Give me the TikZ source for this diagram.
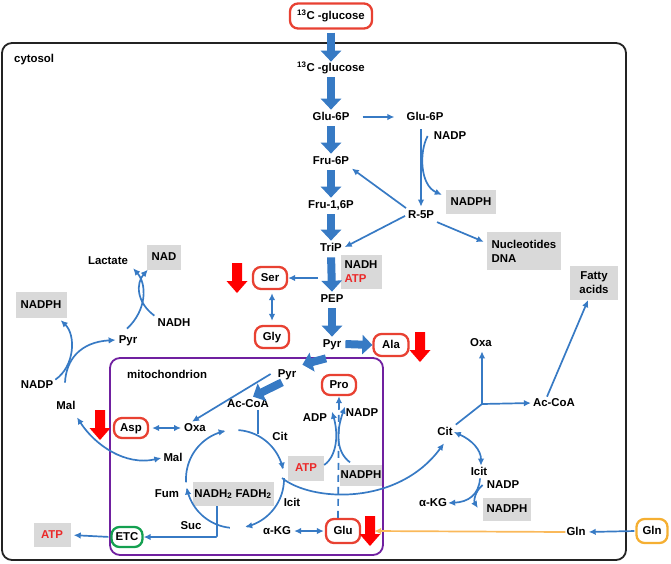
\documentclass[tikz,border=0pt]{standalone}
\usepackage{fontspec}
\setmainfont{Liberation Sans}
\usetikzlibrary{arrows.meta}
\definecolor{pblue}{RGB}{55,122,196}
\definecolor{bred}{RGB}{232,65,50}
\definecolor{tred}{RGB}{235,40,40}
\definecolor{agray}{RGB}{217,217,217}
\definecolor{mpurple}{RGB}{112,32,160}
\definecolor{egreen}{RGB}{20,160,80}
\definecolor{gorange}{RGB}{245,175,50}
\definecolor{lorange}{RGB}{250,185,90}
\definecolor{rarrow}{RGB}{255,0,0}
\definecolor{frame}{RGB}{35,35,35}
\tikzset{
  lbl/.style={font=\bfseries\fontsize{11.4}{13}\selectfont, inner sep=1pt, text height=8.3pt, text depth=2pt},
  mlbl/.style={font=\bfseries\fontsize{11.4}{14}\selectfont, inner sep=0pt},
  gbox/.style={lbl, fill=agray, inner sep=0pt},
  mgbox/.style={mlbl, fill=agray},
  rbox/.style={lbl, draw=bred, line width=2.3pt, rounded corners=8pt, inner sep=0pt, minimum width=34pt, minimum height=22pt},
  flow/.style={draw=pblue, line width=1.7pt, -{Latex[length=7pt,width=6.5pt]}},
  bothflow/.style={draw=pblue, line width=1.7pt, {Latex[length=7pt,width=6.5pt]}-{Latex[length=7pt,width=6.5pt]}},
  plainline/.style={draw=pblue, line width=1.7pt},
  bigflow/.style={draw=pblue, line width=8pt, -{Triangle[length=11pt,width=20pt]}},
  fatflow/.style={draw=pblue, line width=8pt, -{Triangle[length=10pt,width=19pt]}},
  redarr/.pic={\fill[rarrow] (-5,0) -- (5,0) -- (5,18) -- (10.5,18) -- (0,30) -- (-10.5,18) -- (-5,18) -- cycle;}
}
\begin{document}
\begin{tikzpicture}[x=1pt,y=-1pt]
\useasboundingbox (0,0) rectangle (671,563);
% compartments
\draw[frame, line width=1.8pt, rounded corners=10pt] (2,43) rectangle (626,560);
\draw[mpurple, line width=1.8pt, rounded corners=10pt] (110,358) rectangle (383,555);
\node[lbl, anchor=west] (cytolbl) at (13,59) {cytosol};
\node[lbl, anchor=west] (mitolbl) at (126,375) {mitochondrion};

% main column
\node[rbox, minimum width=82pt, minimum height=25pt] (topglc) at (331,16) {\textsuperscript{13}C -glucose};
\node[lbl] (glc) at (331,68) {\textsuperscript{13}C -glucose};
\node[lbl] (g6p) at (331,117) {Glu-6P};
\node[lbl] (f6p) at (331,161) {Fru-6P};
\node[lbl] (f16p) at (331,205) {Fru-1,6P};
\node[lbl] (trip) at (331,248) {TriP};
\node[lbl] (pep) at (332,299) {PEP};
\node[lbl] (pyr) at (332,344) {Pyr};

% pentose phosphate
\node[lbl] (g6pb) at (425,117) {Glu-6P};
\node[lbl] (nadp1) at (450,136) {NADP};
\node[gbox, minimum width=50pt, minimum height=24pt] (nadph1) at (471,202) {NADPH};
\node[lbl] (r5p) at (421,215) {R-5P};
\node[mgbox, minimum width=74pt, minimum height=38pt, align=left] (nucl) at (524,251) {Nucleotides\\DNA};
\node[mgbox, minimum width=48pt, minimum height=34pt, align=center] (fatty) at (594,283) {Fatty\\acids};
\node[mgbox, minimum width=41pt, minimum height=34pt, align=left] (nadhatp) at (361,272) {NADH\\\textcolor{tred}{ATP}};

% amino acids
\node[rbox] (ser) at (270,278) {Ser};
\node[rbox] (gly) at (272,337) {Gly};
\node[rbox, minimum width=35pt] (ala) at (391,345) {Ala};

% lactate / malic enzyme
\node[lbl] (lact) at (108,261) {Lactate};
\node[gbox, minimum width=34pt, minimum height=25pt] (nad) at (164,257) {NAD};
\node[lbl] (nadh) at (174,323) {NADH};
\node[lbl] (pyrL) at (128,340) {Pyr};
\node[gbox, minimum width=51pt, minimum height=26pt] (nadphL) at (41,305) {NADPH};
\node[lbl] (nadpL) at (37,385) {NADP};
\node[lbl] (malL) at (66,406) {Mal};

% mitochondrion
\node[lbl] (pyrM) at (287,374) {Pyr};
\node[lbl] (acoa) at (248,404) {Ac-CoA};
\node[lbl] (oxa) at (195,428) {Oxa};
\node[rbox, minimum height=20pt] (asp) at (131,428) {Asp};
\node[lbl] (cit) at (280,437) {Cit};
\node[lbl] (malM) at (173,458) {Mal};
\node[lbl] (fum) at (167,494) {Fum};
\node[lbl] (suc) at (191,526) {Suc};
\node[lbl] (icit) at (292,503) {Icit};
\node[lbl] (akg) at (277,531) {α-KG};
\node[gbox, minimum width=81pt, minimum height=24pt] (nfadh) at (233,494) {NADH\textsubscript{2} FADH\textsubscript{2}};
\node[rbox, draw=egreen, minimum width=31pt, minimum height=20pt] (etc) at (127,537) {ETC};
\node[gbox, minimum width=37pt, minimum height=24pt, text=tred] (atpL) at (52,535) {ATP};
\node[rbox, minimum height=24pt] (glu) at (343,531) {Glu};
\node[rbox, minimum height=20pt] (pro) at (339,385) {Pro};
\node[lbl] (adp) at (315,418) {ADP};
\node[lbl] (nadpM) at (362,413) {NADP};
\node[gbox, minimum width=36pt, minimum height=25pt, text=tred] (atpM) at (306,468) {ATP};
\node[gbox, minimum width=42pt, minimum height=21pt] (nadphM) at (361,475) {NADPH};

% cytosolic citrate branch
\node[lbl] (citC) at (445,432) {Cit};
\node[lbl] (oxaC) at (481,343) {Oxa};
\node[lbl] (acoaC) at (554,403) {Ac-CoA};
\node[lbl] (icitC) at (479,472) {Icit};
\node[lbl] (nadpC) at (503,485) {NADP};
\node[lbl] (akgC) at (433,503) {α-KG};
\node[gbox, minimum width=48pt, minimum height=23pt] (nadphC) at (507,509) {NADPH};
\node[lbl] (glnC) at (576,532) {Gln};
\node[rbox, draw=gorange, minimum width=31pt, minimum height=24pt] (glnO) at (652,531) {Gln};
\coordinate (junc) at (482,404);
\coordinate (faStart) at ([xshift=-7pt]acoaC.north);
\coordinate (faEnd) at ([xshift=-6pt]fatty.south);

% glycolysis big arrows
\draw[bigflow, shorten <=3pt] (topglc.south) -- (glc.north);
\foreach \a/\b in {glc/g6p, g6p/f6p, f6p/f16p, f16p/trip, trip/pep, pep/pyr}
  \draw[bigflow, shorten <=3pt, shorten >=1pt] (\a.south) -- (\b.north);

% PPP
\draw[flow, shorten <=12pt, shorten >=11pt] (g6p.east) -- (g6pb.west);
\draw[flow, shorten <=6pt, shorten >=2pt] (g6pb.south -| r5p.north) -- (r5p.north);
\draw[flow] ([xshift=-5pt]nadp1.west) .. controls (419,152) and (420,185) .. ([shift={(-4,5)}]nadph1.north west);
\draw[flow, shorten <=1pt, shorten >=2pt] (r5p.north west) -- (f6p.south east);
\draw[flow, shorten <=2pt, shorten >=2pt] (r5p.west) -- (trip.east);
\draw[flow, shorten <=2pt] (r5p.south east) -- ([shift={(-3,10)}]nucl.north west);

% serine / glycine / alanine
\draw[flow] ([xshift=-13pt]trip.south |- ser) -- (ser.east);
\draw[bothflow, shorten <=3pt, shorten >=4pt] (ser.south -| gly.north) -- (gly.north);
\draw[fatflow, shorten <=1pt] ([xshift=2pt]pyr.east) -- (ala.west);

% lactate
\draw[flow] ([shift={(-1,-5)}]pyrL.north) .. controls (147,310) and (147,284) .. ([shift={(4,1)}]lact.south east);
\draw[flow] ([shift={(-2,-1)}]nadh.north west) .. controls (136,302) and (136,283) .. ([shift={(1,0)}]nad.south west);
% malic enzyme
\draw[flow] ([shift={(-1,-17)}]malL.north) .. controls (66,360) and (80,342) .. ([xshift=-2pt]pyrL.west);
\draw[flow] ([shift={(1,1)}]nadpL.north east) .. controls (75,366) and (76,335) .. ([shift={(-6,2)}]nadphL.south east);
\draw[bothflow] ([shift={(11,5)}]malL.south) .. controls (95,445) and (125,466) .. ([xshift=-1pt]malM.west);

% pyruvate into mitochondrion
\draw[fatflow] ([shift={(-6,8)}]pyr.south) -- ([shift={(5,-3)}]pyrM.north east);
\draw[fatflow] ([shift={(-5,2)}]pyrM.south) -- ([shift={(5,-1)}]acoa.north);
\draw[flow] ([xshift=-6pt]pyrM.west) -- ([xshift=-3pt]oxa.north);
\draw[bothflow, shorten <=3pt, shorten >=2pt] (asp.east) -- (oxa.west);

% TCA cycle
\draw[flow] plot[domain=96:170, samples=40] ({235+49*cos(\x)},{479+49*sin(\x)});
\draw[flow] plot[domain=176:259, samples=40] ({235+49*cos(\x)},{479+49*sin(\x)});
\draw[flow] plot[domain=274:349, samples=40] ({235+49*cos(\x)},{479+49*sin(\x)});
\draw[flow] plot[domain=359:438, samples=40] ({235+49*cos(\x)},{479+49*sin(\x)});
\draw[plainline] ([xshift=10pt]acoa.south) -- ++(0,24);
\draw[plainline, rounded corners=1pt, -{Latex[length=7pt,width=6.5pt]}] ([xshift=-16pt]nfadh.south) |- (etc.east);
\draw[flow, shorten <=2pt, shorten >=3pt] (etc.west) -- (atpL.east);
\draw[bothflow, shorten <=2pt, shorten >=1pt] (akg.east) -- (glu.west);

% proline
\draw[draw=pblue, line width=1.7pt, dash pattern=on 7pt off 5pt, -{Latex[length=7pt,width=6.5pt]}] ([xshift=-5pt]glu.north) -- (pro.south);
\draw[flow] ([shift={(0,-3)}]atpM.east) .. controls (338,455) and (338,432) .. ([xshift=17pt]adp.north);
\draw[flow] ([shift={(-11,-2)}]nadphM.north) .. controls (336,452) and (336,432) .. ([xshift=-17pt]nadpM.north);

% citrate export
\draw[flow] (282,478) .. controls (312,502) and (398,506) .. ([shift={(-1,5)}]citC.south);
\draw[plainline] ([shift={(2,-1)}]citC.north east) -- (junc);
\draw[flow] (junc) -- ([shift={(1,2)}]oxaC.south);
\draw[flow, shorten >=1pt] (junc) -- (acoaC.west);
\draw[plainline, -{Latex[length=7pt,width=6.5pt]}] (faStart) -- (faEnd);
\draw[bothflow] (citC.east) .. controls (472,440) and (481,450) .. ([xshift=2pt]icitC.north);
\draw[flow] ([xshift=1pt]icitC.south) .. controls (479,495) and (468,502) .. (akgC.east);
\draw[flow] ([xshift=-3pt]nadpC.west) .. controls (474,492) and (474,502) .. ([shift={(-5,-1)}]nadphC.west);

% glutamine
\draw[lorange, line width=1.7pt, -{Latex[length=7pt,width=6.5pt]}] (glnC.west) -- ([xshift=13pt]glu.east);
\draw[flow, shorten <=1pt, shorten >=2pt] (glnO.west) -- (glnC.east);

% red arrows
\pic at (237,263) {redarr};
\pic at (420,332) {redarr};
\pic at (100,410) {redarr};
\pic at (370,516) {redarr};
\end{tikzpicture}
\end{document}
